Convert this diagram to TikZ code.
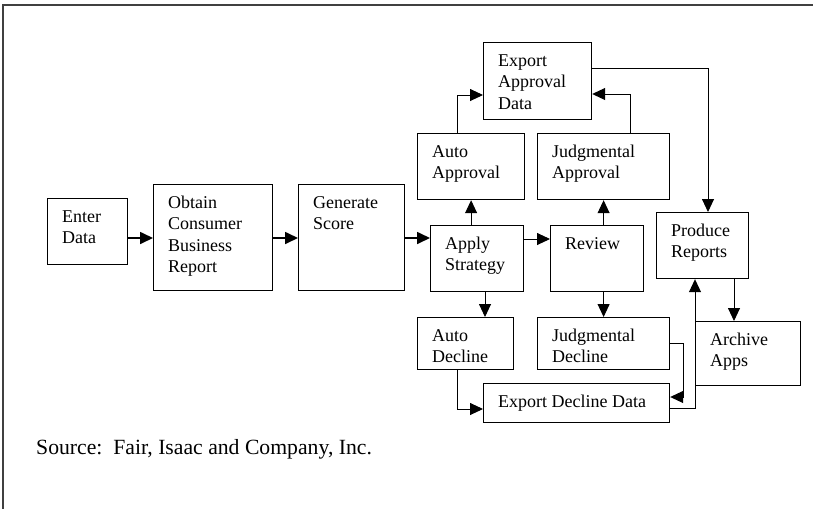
\documentclass[tikz,border=0pt]{standalone}
\usepackage{fontspec}
\setmainfont{Liberation Serif}
\usetikzlibrary{arrows.meta}
\tikzset{
  box/.style={draw=black, line width=1.2pt, rectangle, inner sep=0pt},
  txt/.style={inner sep=0pt, align=left, anchor=north west, font=\fontsize{18}{21.5}\selectfont},
  conn/.style={draw=black, line width=0.9pt, -{Triangle[length=13pt,width=12pt]}},
  mainconn/.style={conn, line width=1.7pt},
  line/.style={draw=black, line width=0.9pt}
}
\newcommand\bx[6]{%
  \node[box, minimum width=#4pt, minimum height=#5pt, anchor=north west] (#1) at (#2,#3) {};
  \node[txt] (#1-t) at ([shift={(15pt,-8.95pt)}]#1.north west) {\strut #6};
}
\begin{document}
\begin{tikzpicture}[x=1pt, y=-1pt]
\useasboundingbox (0,0) rectangle (813,509);
\fill[white] (0,0) rectangle (813,509);
% frame
\draw[line width=2pt, draw=black!75] (813,5) -- (3,5) -- (3,509);

\bx{enter}{47}{198}{80}{66}{Enter\\Data}
\bx{obtain}{153}{184}{119}{106}{Obtain\\Consumer\\Business\\Report}
\bx{gen}{298}{184}{106}{106}{Generate\\Score}
\bx{apply}{430}{225}{93}{66}{Apply\\Strategy}
\bx{review}{550}{225}{93}{66}{Review}
\bx{autoapp}{417}{133}{107}{66}{Auto\\Approval}
\bx{judapp}{537}{133}{132}{66}{Judgmental\\Approval}
\bx{expapp}{483}{42}{108}{77}{Export\\Approval\\Data}
\bx{autodec}{417}{317}{96}{52}{Auto\\Decline}
\bx{juddec}{537}{317}{132}{52}{Judgmental\\Decline}
\bx{expdec}{483}{383}{186}{39}{Export Decline Data}
\bx{produce}{656}{212}{92}{66}{Produce\\Reports}
\bx{archive}{695}{321}{105}{64}{Archive\\Apps}

% helper coordinates
\coordinate (r1) at (0,238);
\coordinate (r2) at (0,239);
\coordinate (ad1) at (485,0);
\coordinate (aa) at (457,95);
\coordinate (ja) at (630,94);
\coordinate (ep) at (708,68);
\coordinate (ad) at (457,409);
\coordinate (jd1) at (683,343);
\coordinate (jd2) at (683,397);
\coordinate (dp) at (695,408);
\coordinate (pa) at (734,0);

% main flow
\draw[mainconn] (enter.east |- r1) -- (obtain.west |- r1);
\draw[mainconn] (obtain.east |- r1) -- (gen.west |- r1);
\draw[mainconn] (gen.east |- r1) -- (apply.west |- r1);
\draw[conn] (apply.east |- r2) -- (review.west |- r2);

% up / down from apply and review
\draw[conn] (autoapp.south |- apply.north) -- (autoapp.south);
\draw[conn] (judapp.south |- review.north) -- (judapp.south);
\draw[conn] (apply.south -| ad1) -- (autodec.north -| ad1);
\draw[conn] (juddec.north |- review.south) -- (juddec.north);

% to export approval data
\draw[conn] (aa |- autoapp.north) |- (expapp.west |- aa);
\draw[conn] (ja |- judapp.north) |- (expapp.east |- ja);
\draw[conn] (expapp.east |- ep) -| (produce.north -| ep);

% to export decline data
\draw[conn] (ad |- autodec.south) |- (expdec.west |- ad);
\draw[conn] (juddec.east |- jd1) -- (jd1) -- (jd2) -- (expdec.east |- jd2);
\draw[conn] (expdec.east |- dp) -| (produce.south -| dp);

% reports to archive
\draw[conn] (produce.south -| pa) -- (archive.north -| pa);

\node[anchor=base west, inner sep=0pt, font=\fontsize{21.7}{26}\selectfont] (src) at (36,454) {Source:~~Fair, Isaac and Company, Inc.};
\end{tikzpicture}
\end{document}
